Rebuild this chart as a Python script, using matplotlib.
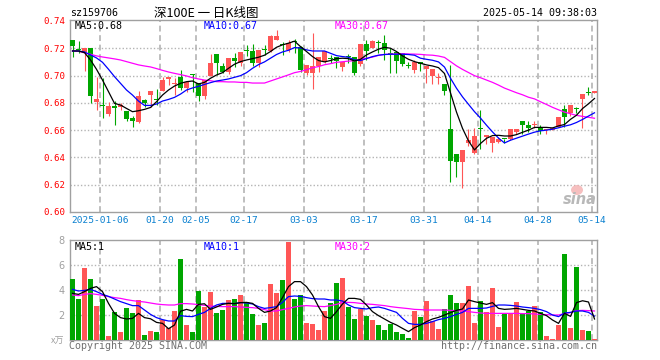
import matplotlib
matplotlib.use("Agg")
import matplotlib.pyplot as plt
from matplotlib.patches import Ellipse
import numpy as np

# Daily K-line data (sz159706), 2024-12-27 .. 2025-05-14
opens = [0.726, 0.7195, 0.7175, 0.72, 0.6803, 0.678, 0.672, 0.6775, 0.6766, 0.674,
         0.669, 0.6661, 0.682, 0.6857, 0.6825, 0.6886, 0.6972, 0.694, 0.6992, 0.6906,
         0.701, 0.6943, 0.6852, 0.6999, 0.7158, 0.707, 0.7028, 0.7127, 0.709, 0.7185,
         0.718, 0.7095, 0.7192, 0.7183, 0.7261, 0.7228, 0.7188, 0.7251, 0.7207, 0.7016,
         0.7016, 0.707, 0.7102, 0.7125, 0.7134, 0.706, 0.7141, 0.7134, 0.7082, 0.7232,
         0.7205, 0.7247, 0.7237, 0.7166, 0.7175, 0.7168, 0.7075, 0.7044, 0.7093, 0.7046,
         0.6999, 0.6984, 0.6935, 0.6607, 0.6423, 0.6367, 0.6507, 0.6433, 0.6615, 0.6553,
         0.6507, 0.6516, 0.6536, 0.6534, 0.6588, 0.6666, 0.6637, 0.6639, 0.662, 0.66,
         0.66, 0.6624, 0.6754, 0.6722, 0.676, 0.6826, 0.6875, 0.687]
highs = [0.726, 0.725, 0.72, 0.72, 0.6992, 0.698, 0.6808, 0.681, 0.6796, 0.674,
         0.67, 0.6887, 0.6828, 0.6886, 0.6902, 0.699, 0.699, 0.6985, 0.704, 0.6955,
         0.701, 0.6943, 0.6967, 0.7156, 0.7158, 0.709, 0.7127, 0.7163, 0.7171, 0.7225,
         0.7232, 0.7188, 0.7225, 0.73, 0.7335, 0.7249, 0.7261, 0.7266, 0.722, 0.7078,
         0.731, 0.7139, 0.7183, 0.7151, 0.7134, 0.7097, 0.7158, 0.7134, 0.7232, 0.7261,
         0.7261, 0.7261, 0.7298, 0.72, 0.7175, 0.7168, 0.7097, 0.7115, 0.7102, 0.707,
         0.7046, 0.702, 0.6935, 0.7078, 0.6423, 0.6453, 0.6607, 0.6612, 0.6747, 0.6564,
         0.6551, 0.655, 0.6536, 0.6607, 0.6607, 0.6666, 0.6669, 0.6666, 0.6637, 0.6607,
         0.662, 0.6693, 0.6784, 0.6784, 0.6767, 0.6862, 0.6914, 0.6886]
lows = [0.7134, 0.7165, 0.7036, 0.68, 0.6747, 0.669, 0.67, 0.664, 0.6747, 0.6666,
        0.6624, 0.6655, 0.6766, 0.677, 0.6784, 0.6886, 0.693, 0.6857, 0.6894, 0.688,
        0.6877, 0.6815, 0.6828, 0.6999, 0.7004, 0.7016, 0.7009, 0.7065, 0.707, 0.714,
        0.707, 0.7065, 0.7151, 0.7175, 0.7261, 0.7151, 0.7175, 0.7168, 0.7029, 0.7004,
        0.6899, 0.7029, 0.7095, 0.709, 0.7053, 0.7036, 0.709, 0.7004, 0.707, 0.7114,
        0.72, 0.7163, 0.7114, 0.7021, 0.7021, 0.707, 0.7053, 0.7016, 0.7036, 0.6948,
        0.694, 0.694, 0.6857, 0.622, 0.6257, 0.6176, 0.6482, 0.6428, 0.6462, 0.6495,
        0.6438, 0.6507, 0.6507, 0.6526, 0.6575, 0.6575, 0.6588, 0.6617, 0.6575, 0.6575,
        0.66, 0.662, 0.6624, 0.6703, 0.6722, 0.6616, 0.6857, 0.687]
closes = [0.722, 0.719, 0.72, 0.6852, 0.6828, 0.6775, 0.6776, 0.6765, 0.6783, 0.6678,
          0.6664, 0.685, 0.68, 0.6886, 0.682, 0.6967, 0.6989, 0.6948, 0.6911, 0.6955,
          0.7005, 0.6852, 0.6967, 0.7095, 0.7095, 0.7028, 0.7127, 0.711, 0.7171, 0.718,
          0.7095, 0.7188, 0.7188, 0.7293, 0.7293, 0.7222, 0.7237, 0.7244, 0.7041, 0.7078,
          0.707, 0.7139, 0.7183, 0.712, 0.711, 0.7097, 0.7136, 0.7021, 0.7232, 0.7183,
          0.7254, 0.724, 0.7188, 0.716, 0.7107, 0.7082, 0.707, 0.7099, 0.7088, 0.707,
          0.7046, 0.6987, 0.6886, 0.6374, 0.6367, 0.6453, 0.6526, 0.6556, 0.661, 0.6556,
          0.6551, 0.6536, 0.6534, 0.6607, 0.6607, 0.6637, 0.6617, 0.6642, 0.6595, 0.6607,
          0.6617, 0.6693, 0.6693, 0.6784, 0.6757, 0.6862, 0.687, 0.6886]

ma5 = [0.718, 0.718, 0.7168, 0.7114, 0.7046, 0.6967, 0.6882, 0.6796, 0.6784, 0.6759,
       0.6735, 0.6742, 0.6752, 0.6766, 0.6808, 0.6857, 0.6894, 0.6923, 0.6943, 0.6955,
       0.696, 0.6938, 0.695, 0.698, 0.7004, 0.7021, 0.7053, 0.7083, 0.7102, 0.7114,
       0.7124, 0.7134, 0.7149, 0.7176, 0.7207, 0.7225, 0.7237, 0.7252, 0.7212, 0.7176,
       0.7139, 0.711, 0.71, 0.711, 0.7124, 0.7127, 0.7124, 0.7107, 0.7119, 0.7151,
       0.7173, 0.7193, 0.7207, 0.72, 0.7176, 0.7144, 0.7119, 0.7102, 0.709, 0.7078,
       0.707, 0.7058, 0.7015, 0.6873, 0.6732, 0.6613, 0.6521, 0.6455, 0.6502, 0.654,
       0.656, 0.6562, 0.6557, 0.6557, 0.6567, 0.6584, 0.66, 0.662, 0.662, 0.662,
       0.6616, 0.6631, 0.6641, 0.6679, 0.6709, 0.6758, 0.6793, 0.6832]
ma10 = [0.718, 0.718, 0.7173, 0.7151, 0.7129, 0.7097, 0.7046, 0.6992, 0.6943, 0.6894,
        0.6857, 0.6813, 0.6781, 0.6781, 0.6791, 0.6813, 0.6825, 0.684, 0.6864, 0.6894,
        0.6909, 0.6921, 0.6935, 0.6948, 0.696, 0.6967, 0.6975, 0.6987, 0.6999, 0.7021,
        0.7053, 0.708, 0.71, 0.7127, 0.7154, 0.7173, 0.7185, 0.7205, 0.7202, 0.7188,
        0.718, 0.718, 0.718, 0.7163, 0.7146, 0.7139, 0.7134, 0.7114, 0.711, 0.7124,
        0.7139, 0.7149, 0.7154, 0.7156, 0.7156, 0.7156, 0.7154, 0.7149, 0.7127, 0.7119,
        0.7112, 0.71, 0.7062, 0.698, 0.6907, 0.6844, 0.6789, 0.6735, 0.6688, 0.6636,
        0.6587, 0.6542, 0.6506, 0.6526, 0.6541, 0.6556, 0.6571, 0.6585, 0.6595, 0.66,
        0.6607, 0.6617, 0.6629, 0.6639, 0.6656, 0.6678, 0.6703, 0.6727]
ma30 = [0.718, 0.7178, 0.7166, 0.7156, 0.7144, 0.7136, 0.7129, 0.7122, 0.7114, 0.7102,
        0.709, 0.7078, 0.707, 0.7063, 0.7051, 0.7038, 0.7026, 0.7016, 0.7007, 0.6997,
        0.6984, 0.6975, 0.6967, 0.6962, 0.6955, 0.6955, 0.6953, 0.6953, 0.695, 0.695,
        0.6945, 0.6945, 0.6945, 0.696, 0.6975, 0.699, 0.7005, 0.7021, 0.703, 0.7043,
        0.7057, 0.7066, 0.7079, 0.7087, 0.7097, 0.7101, 0.7106, 0.7108, 0.7119, 0.7127,
        0.7135, 0.7148, 0.7155, 0.7157, 0.7158, 0.716, 0.7158, 0.7157, 0.7155, 0.7151,
        0.7149, 0.7143, 0.7133, 0.7102, 0.7071, 0.7045, 0.7022, 0.6999, 0.6984, 0.6967,
        0.695, 0.693, 0.6908, 0.6891, 0.6874, 0.6859, 0.6841, 0.6829, 0.6808, 0.6788,
        0.6767, 0.6749, 0.6732, 0.672, 0.6708, 0.6701, 0.6694, 0.6687]

# volume (x10k)
volumes = [4.88, 3.28, 5.76, 4.88, 2.72, 3.28, 0.32, 2.21, 0.61, 2.56,
           2.16, 3.17, 0.4, 0.72, 0.64, 1.6, 0.93, 2.32, 6.48, 1.2,
           0.64, 3.92, 2.67, 3.84, 2.16, 2.4, 3.2, 3.28, 3.6, 3.01,
           2.08, 1.2, 1.36, 4.48, 3.76, 4.8, 7.84, 3.28, 3.6, 1.36,
           1.28, 0.8, 2.32, 2.96, 4.56, 4.96, 2.64, 1.68, 2.48, 1.92,
           1.6, 1.2, 0.8, 1.28, 0.64, 0.48, 0.16, 2.32, 1.84, 3.12,
           1.52, 0.88, 2.48, 3.6, 2.96, 2.96, 4.32, 1.36, 3.12, 2.24,
           4.16, 1.04, 2.16, 2.16, 3.04, 2.16, 2.32, 2.72, 2.24, 0.32,
           0.08, 1.2, 6.88, 0.96, 5.84, 0.8, 0.72, 0.08]
vma5 = [3.73, 3.65, 3.87, 4.13, 4.27, 3.87, 2.93, 2.13, 1.79, 1.68,
        1.73, 2.13, 1.79, 1.7, 1.41, 1.33, 0.9, 1.2, 2.3, 2.45,
        2.32, 2.85, 2.9, 2.45, 2.64, 2.85, 2.93, 2.91, 2.99, 3.01,
        2.93, 2.53, 2.21, 2.32, 2.59, 3.39, 4.27, 4.67, 4.67, 4.27,
        3.6, 2.67, 1.87, 1.73, 2.27, 2.88, 3.33, 3.33, 3.25, 2.8,
        2.27, 1.95, 1.68, 1.41, 1.2, 0.93, 0.67, 0.99, 1.2, 1.47,
        1.68, 1.81, 2.0, 2.19, 2.37, 2.48, 3.2, 3.07, 2.96, 2.85,
        2.99, 2.53, 2.45, 2.48, 2.53, 2.45, 2.37, 2.32, 2.13, 1.95,
        1.6, 1.33, 2.14, 1.89, 2.99, 3.14, 3.04, 1.68]
vma10 = [4.05, 3.92, 3.97, 4.05, 3.87, 3.65, 3.49, 3.28, 3.07, 2.91,
         2.75, 2.75, 2.4, 2.05, 1.79, 1.63, 1.52, 1.52, 1.95, 1.89,
         1.87, 2.05, 2.21, 2.53, 2.8, 2.93, 2.93, 2.91, 2.99, 2.96,
         2.88, 2.67, 2.53, 2.59, 2.67, 3.01, 3.47, 3.52, 3.49, 3.39,
         3.31, 3.28, 3.28, 3.2, 3.2, 3.12, 2.8, 2.59, 2.53, 2.48,
         2.59, 2.64, 2.53, 2.37, 2.21, 1.73, 1.33, 1.25, 1.25, 1.33,
         1.47, 1.63, 1.73, 1.87, 2.05, 2.21, 2.53, 2.53, 2.53, 2.56,
         2.69, 2.8, 2.8, 2.77, 2.72, 2.64, 2.59, 2.53, 2.43, 2.27,
         2.0, 1.87, 2.16, 2.21, 2.32, 2.32, 2.21, 1.91]
vma30 = [3.6, 3.55, 3.65, 3.71, 3.65, 3.57, 3.47, 3.39, 3.33, 3.23,
         3.15, 3.09, 3.04, 2.96, 2.88, 2.83, 2.8, 2.8, 2.91, 2.91,
         2.88, 2.83, 2.77, 2.72, 2.69, 2.67, 2.67, 2.67, 2.64, 2.61,
         2.59, 2.53, 2.43, 2.32, 2.32, 2.43, 2.53, 2.64, 2.72, 2.75,
         2.72, 2.69, 2.67, 2.75, 2.85, 3.01, 3.01, 2.99, 2.93, 2.88,
         2.85, 2.8, 2.75, 2.67, 2.61, 2.56, 2.51, 2.45, 2.43, 2.4,
         2.4, 2.4, 2.4, 2.37, 2.35, 2.32, 2.27, 2.21, 2.16, 2.13,
         2.13, 2.13, 2.13, 2.13, 2.13, 2.11, 2.11, 2.08, 2.05, 2.03,
         2.0, 2.0, 2.11, 2.19, 2.35, 2.37, 2.35, 2.32]

date_idx = [5, 15, 21, 29, 39, 49, 59, 68, 78, 87]
date_labels = ["2025-01-06", "01-20", "02-05", "02-17", "03-03",
               "03-17", "03-31", "04-14", "04-28", "05-14"]
price_ticks = [0.60, 0.62, 0.64, 0.66, 0.68, 0.70, 0.72, 0.74]
vol_ticks = [2, 4, 6, 8]

RED = "#ff5656"
GREEN = "#00a600"
GRID = "#b4b4b4"
MONO = "DejaVu Sans Mono"
CJK = ["Noto Sans CJK SC", "DejaVu Sans"]

n = len(closes)
x = np.arange(n)
o = np.array(opens); c = np.array(closes)
up = c >= o
cols = [RED if u else GREEN for u in up]

W, H = 660, 360
fig = plt.figure(figsize=(6.6, 3.6), dpi=100)
fig.patch.set_facecolor("white")

def fx(px):
    return px / W

def fy(py):
    return 1 - py / H

ax1 = fig.add_axes([fx(70), fy(212), fx(597) - fx(70), (212 - 20) / H])
ax2 = fig.add_axes([fx(70), fy(340), fx(597) - fx(70), (340 - 240) / H])
xl = (-0.4167, n - 1 + 0.4167)
grid_x = [i - 0.42 for i in date_idx]

for ax in (ax1, ax2):
    ax.set_xlim(*xl)
    for s in ax.spines.values():
        s.set_color("#a0a0a0")
        s.set_linewidth(1.0)
    for gx in grid_x:
        ax.axvline(gx, color=GRID, lw=1.2, ls=(0, (3.5, 2.2)), zorder=0)
    ax.tick_params(length=0)

# ---- price panel
ax1.set_ylim(0.60, 0.7407)
for p in price_ticks[1:-1]:
    ax1.axhline(p, color=GRID, lw=1.0, ls=(0, (1, 1.5)), zorder=0)
ax1.vlines(x, lows, highs, colors=cols, lw=0.8, zorder=2)
body = np.maximum(np.abs(c - o), 0.0008)
ax1.bar(x, body, bottom=np.minimum(o, c), width=0.82, color=cols, lw=0, zorder=3)
ax1.plot(x, ma30, color="#ff00ff", lw=0.9, zorder=4)
ax1.plot(x, ma10, color="#0000ff", lw=0.9, zorder=5)
ax1.plot(x, ma5, color="black", lw=0.9, zorder=6)
ax1.set_yticks(price_ticks)
ax1.set_yticklabels(["%.2f" % p for p in price_ticks], color="red",
                    fontsize=6.6, family=MONO)
ax1.tick_params(axis="y", pad=3)
ax1.set_xticks(grid_x)
ax1.set_xticklabels(date_labels, color="#0a80d0", fontsize=6.8, family=MONO)
ax1.tick_params(axis="x", pad=3)

# ---- volume panel
ax2.set_ylim(0, 8)
for v in vol_ticks[:-1]:
    ax2.axhline(v, color=GRID, lw=1.0, ls=(0, (1, 1.5)), zorder=0)
ax2.bar(x, volumes, width=0.82, color=cols, lw=0, zorder=3)
ax2.plot(x, vma30, color="#ff00ff", lw=0.9, zorder=4)
ax2.plot(x, vma10, color="#0000ff", lw=0.9, zorder=5)
ax2.plot(x, vma5, color="black", lw=0.9, zorder=6)
ax2.set_yticks(vol_ticks)
ax2.set_yticklabels([str(v) for v in vol_ticks], color="#a0a0a0", fontsize=7)
ax2.tick_params(axis="y", pad=4)
ax2.set_xticks([])

# ---- texts
fig.text(fx(70), fy(13), "sz159706", family=MONO, fontsize=7.2, va="center", ha="left")
fig.text(fx(206), fy(13), "深100E 一 日K线图", family=CJK, fontsize=9, va="center", ha="center")
fig.text(fx(597), fy(13), "2025-05-14 09:38:03", family=MONO, fontsize=7.2,
         va="center", ha="right")
ma_lab = [("MA5:0.68", "black", 75), ("MA10:0.67", "#0000ff", 204), ("MA30:0.67", "#ff00ff", 335)]
for t, col, px in ma_lab:
    fig.text(fx(px), fy(26), t, color=col, family=MONO, fontsize=7.2, va="center", ha="left")
vma_lab = [("MA5:1", "black", 75), ("MA10:1", "#0000ff", 204), ("MA30:2", "#ff00ff", 335)]
for t, col, px in vma_lab:
    fig.text(fx(px), fy(247), t, color=col, family=MONO, fontsize=7.2, va="center", ha="left")
fig.text(fx(64), fy(341), "x万", family=CJK, fontsize=6.5, color="#a0a0a0", va="center", ha="right")
fig.text(fx(69), fy(346), "Copyright 2025 SINA.COM", family=MONO, fontsize=7.2,
         color="#707070", va="center", ha="left")
fig.text(fx(597), fy(346), "http://finance.sina.com.cn", family=MONO, fontsize=7.2,
         color="#707070", va="center", ha="right")

# sina watermark
fig.add_artist(Ellipse((fx(577), fy(190)), 12 / W, 10 / H, transform=fig.transFigure,
                       facecolor="#f4b0b0", edgecolor="none", alpha=0.8))
fig.text(fx(580), fy(200), "sina", fontsize=10.5, weight="bold", style="italic",
         color="#b8b8b8", va="center", ha="center")

fig.savefig("out.png", dpi=100)
